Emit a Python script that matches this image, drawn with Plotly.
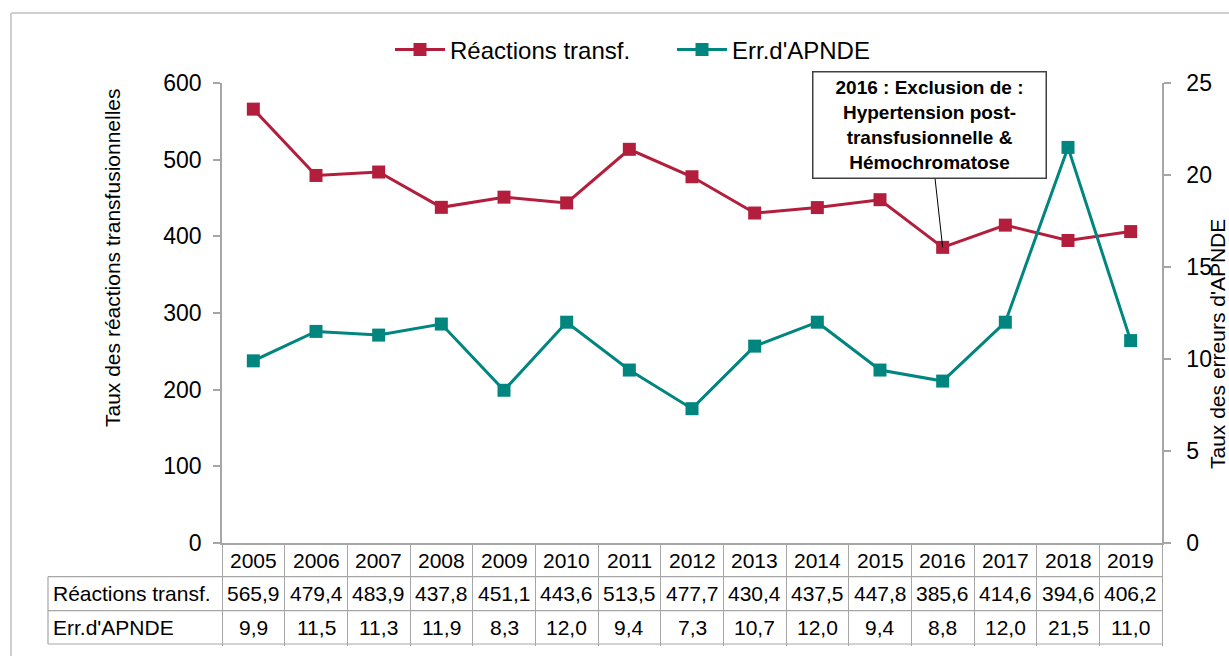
import plotly.graph_objects as go

years = ["2005", "2006", "2007", "2008", "2009", "2010", "2011", "2012",
         "2013", "2014", "2015", "2016", "2017", "2018", "2019"]
reactions = [565.9, 479.4, 483.9, 437.8, 451.1, 443.6, 513.5, 477.7,
             430.4, 437.5, 447.8, 385.6, 414.6, 394.6, 406.2]
erreurs = [9.9, 11.5, 11.3, 11.9, 8.3, 12.0, 9.4, 7.3,
           10.7, 12.0, 9.4, 8.8, 12.0, 21.5, 11.0]
series_names = ["Réactions transf.", "Err.d'APNDE"]
note_year = "2016"
note_text = "2016 : Exclusion de :<br>Hypertension post-<br>transfusionnelle &<br>Hémochromatose"

RED = "#B21E3B"
TEAL = "#00857F"
GRID = "#A6A6A6"
FONT = "Liberation Sans, Arial, Helvetica, sans-serif"

W, H = 1229, 656
ML, MR, MT, MB = 222, 67, 83, 113
PW, PH = W - ML - MR, H - MT - MB


def px_x(p):
    return (p - ML) / PW


def px_y(p):
    return (H - MB - p) / PH


xi = list(range(len(years)))

fig = go.Figure()
fig.add_trace(go.Scatter(
    x=xi, y=reactions, name=series_names[0], mode="lines+markers",
    line=dict(color=RED, width=3),
    marker=dict(symbol="square", size=13, color=RED),
    yaxis="y"))
fig.add_trace(go.Scatter(
    x=xi, y=erreurs, name=series_names[1], mode="lines+markers",
    line=dict(color=TEAL, width=3),
    marker=dict(symbol="square", size=13, color=TEAL),
    yaxis="y2"))

# table row geometry (pixels)
row_lines = [576.7, 610.7, 644]
row_centers = [560, 593.7, 627.3]
table_left = 48

shapes = []
for yl in row_lines:
    shapes.append(dict(type="line", xref="paper", yref="paper",
                       x0=px_x(table_left), x1=1, y0=px_y(yl), y1=px_y(yl),
                       line=dict(color=GRID, width=1.2)))
shapes.append(dict(type="line", xref="paper", yref="paper",
                   x0=px_x(table_left), x1=px_x(table_left),
                   y0=px_y(row_lines[0]), y1=px_y(row_lines[-1]),
                   line=dict(color=GRID, width=1.2)))
# outer chart border (top + left)
shapes.append(dict(type="line", xref="paper", yref="paper",
                   x0=px_x(11), x1=px_x(1240), y0=px_y(13), y1=px_y(13),
                   line=dict(color="#BFBFBF", width=1.5)))
shapes.append(dict(type="line", xref="paper", yref="paper",
                   x0=px_x(11), x1=px_x(11), y0=px_y(13), y1=px_y(670),
                   line=dict(color="#BFBFBF", width=1.5)))

annotations = []
tfont = dict(family=FONT, size=21, color="#000000")
for i, yr in enumerate(years):
    annotations.append(dict(x=i, y=px_y(row_centers[0]), xref="x", yref="paper",
                            xanchor="center", yanchor="middle",
                            text=yr, showarrow=False, font=tfont))
    annotations.append(dict(x=i, y=px_y(row_centers[1]), xref="x", yref="paper",
                            xanchor="center", yanchor="middle",
                            text=f"{reactions[i]:.1f}".replace(".", ","),
                            showarrow=False, font=tfont))
    annotations.append(dict(x=i, y=px_y(row_centers[2]), xref="x", yref="paper",
                            xanchor="center", yanchor="middle",
                            text=f"{erreurs[i]:.1f}".replace(".", ","),
                            showarrow=False, font=tfont))
for k, nm in enumerate(series_names):
    annotations.append(dict(x=px_x(51), y=px_y(row_centers[k + 1]), xref="paper",
                            yref="paper", xanchor="left", yanchor="middle", text=nm,
                            showarrow=False, font=tfont))

# axis titles
annotations.append(dict(x=px_x(112), y=px_y(258), xref="paper", yref="paper",
                        xanchor="center", yanchor="middle",
                        text="Taux des réactions transfusionnelles", textangle=-90,
                        showarrow=False, font=dict(family=FONT, size=21, color="#000")))
annotations.append(dict(x=px_x(1217), y=px_y(344), xref="paper", yref="paper",
                        xanchor="center", yanchor="middle",
                        text="Taux des erreurs d'APNDE", textangle=-90,
                        showarrow=False, font=dict(family=FONT, size=21, color="#000")))

# callout
ni = years.index(note_year)
annotations.append(dict(x=ni, y=reactions[ni], xref="x", yref="y",
                        text="<b>" + note_text + "</b>",
                        showarrow=True, arrowhead=0, arrowwidth=1, arrowcolor="#000",
                        ax=-13.5, ay=-122, width=226, height=99,
                        font=dict(family=FONT, size=19, color="#000"),
                        bordercolor="#404040", borderwidth=1.5, borderpad=3,
                        bgcolor="white"))

fig.update_layout(
    width=W, height=H,
    margin=dict(l=ML, r=MR, t=MT, b=MB),
    paper_bgcolor="white", plot_bgcolor="white",
    font=dict(family=FONT, size=22, color="#000"),
    showlegend=True,
    legend=dict(orientation="h", x=px_x(390), xanchor="left", y=px_y(50),
                yanchor="middle", font=dict(family=FONT, size=24, color="#000"),
                bgcolor="rgba(0,0,0,0)", itemwidth=50,
                entrywidth=217, entrywidthmode="pixels"),
    xaxis=dict(range=[-0.5, len(years) - 0.5],
               tickmode="array", tickvals=[i - 0.5 for i in range(len(years) + 1)],
               ticks="outside", ticklen=row_lines[-1] - (H - MB), tickwidth=1.2,
               tickcolor=GRID, showticklabels=False,
               showline=True, linecolor=GRID, linewidth=1.5,
               showgrid=False, zeroline=False, fixedrange=True),
    yaxis=dict(range=[0, 600], dtick=100, ticks="outside", ticklen=7,
               tickcolor=GRID, tickwidth=1.5, showline=True, linecolor=GRID,
               linewidth=1.5, showgrid=False, zeroline=False,
               tickfont=dict(family=FONT, size=23, color="#000"),
               ticklabelstandoff=7),
    yaxis2=dict(range=[0, 25], dtick=5, overlaying="y", side="right",
                ticks="outside", ticklen=7, tickcolor=GRID, tickwidth=1.5,
                showline=True, linecolor=GRID, linewidth=1.5, showgrid=False,
                zeroline=False, tickfont=dict(family=FONT, size=23, color="#000"),
                ticklabelstandoff=11),
    shapes=shapes,
    annotations=annotations,
)

fig.write_html("out.html", config={"displayModeBar": False},
               post_script="document.body.style.margin='0';document.body.style.padding='0';document.body.style.overflow='hidden';")
